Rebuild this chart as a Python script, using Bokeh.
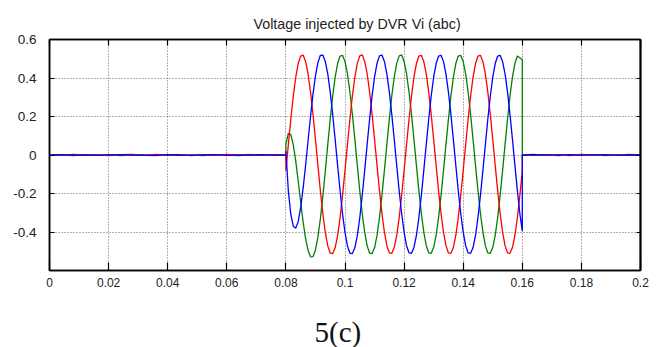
import numpy as np
from bokeh.plotting import figure
from bokeh.layouts import column
from bokeh.models import Range1d, FixedTicker, LinearAxis, CustomJSTickFormatter, Title
from bokeh.embed import file_html
from bokeh.resources import INLINE

# ---------------- data ----------------
TITLE = "Voltage injected by DVR Vi (abc)"
CAPTION = "5(c)"
x_ticks = [0, 0.02, 0.04, 0.06, 0.08, 0.1, 0.12, 0.14, 0.16, 0.18, 0.2]
y_ticks = [-0.4, -0.2, 0, 0.2, 0.4, 0.6]

# sampling grids (time, s)
pre_t = np.linspace(0.0, 0.08, 21)          # before the sag
fault_t = 0.08 + np.arange(97) * (0.02 / 24)  # 0.08 .. 0.16
post_t = np.linspace(0.16, 0.2, 11)         # after the sag

red_pre = [0.001, -0.002, 0.003, -0.001, 0.002, -0.003, 0.002, 0.003, -0.002, 0.003, -0.001,
           0.002, -0.003, 0.002, -0.002, 0.003, -0.001, 0.003, -0.002, 0.002, 0.000]
green_pre = [-0.002, 0.001, -0.003, 0.002, -0.001, 0.002, -0.003, 0.001, -0.002, -0.003, 0.002,
             -0.002, 0.001, -0.003, 0.002, -0.001, -0.003, 0.001, -0.002, 0.001, 0.000]
blue_pre = [0.000, 0.002, -0.001, 0.001, -0.002, 0.001, 0.002, -0.001, 0.001, -0.002, 0.002,
            0.000, -0.001, 0.001, 0.002, -0.002, 0.001, -0.001, 0.002, -0.001, 0.000]

red_fault = [
    -0.081, 0.054, 0.186, 0.306, 0.404, 0.475, 0.514, 0.519, 0.485, 0.421, 0.327, 0.211,
    0.081, -0.054, -0.186, -0.305, -0.402, -0.472, -0.510, -0.512, -0.482, -0.419, -0.326, -0.210,
    -0.080, 0.055, 0.187, 0.307, 0.405, 0.476, 0.515, 0.520, 0.486, 0.422, 0.327, 0.211,
    0.081, -0.054, -0.185, -0.304, -0.401, -0.471, -0.508, -0.511, -0.480, -0.418, -0.325, -0.210,
    -0.080, 0.055, 0.186, 0.306, 0.404, 0.475, 0.514, 0.518, 0.485, 0.421, 0.327, 0.211,
    0.081, -0.054, -0.185, -0.304, -0.401, -0.471, -0.509, -0.511, -0.481, -0.418, -0.325, -0.210,
    -0.080, 0.054, 0.186, 0.306, 0.404, 0.475, 0.514, 0.518, 0.485, 0.421, 0.327, 0.211,
    0.081, -0.054, -0.185, -0.304, -0.401, -0.471, -0.509, -0.511, -0.481, -0.418, -0.325, -0.210,
    -0.085]
green_fault = [
    0.055, 0.113, 0.106, 0.053, -0.032, -0.135, -0.244, -0.348, -0.434, -0.496, -0.529, -0.528,
    -0.493, -0.427, -0.331, -0.214, -0.083, 0.054, 0.186, 0.306, 0.404, 0.475, 0.514, 0.518,
    0.485, 0.421, 0.327, 0.211, 0.081, -0.054, -0.186, -0.305, -0.402, -0.472, -0.510, -0.512,
    -0.482, -0.419, -0.326, -0.210, -0.080, 0.055, 0.187, 0.307, 0.405, 0.476, 0.515, 0.520,
    0.486, 0.422, 0.327, 0.211, 0.081, -0.054, -0.185, -0.304, -0.401, -0.471, -0.508, -0.511,
    -0.480, -0.418, -0.325, -0.210, -0.080, 0.055, 0.186, 0.306, 0.404, 0.475, 0.514, 0.518,
    0.485, 0.421, 0.327, 0.211, 0.081, -0.054, -0.185, -0.304, -0.401, -0.471, -0.509, -0.511,
    -0.481, -0.418, -0.325, -0.210, -0.080, 0.054, 0.186, 0.306, 0.404, 0.475, 0.514, 0.505,
    0.495]
blue_fault = [
    0.020, -0.188, -0.309, -0.370, -0.380, -0.345, -0.273, -0.172, -0.053, 0.074, 0.200, 0.316,
    0.411, 0.480, 0.518, 0.519, 0.485, 0.421, 0.327, 0.211, 0.081, -0.054, -0.186, -0.305,
    -0.402, -0.472, -0.510, -0.512, -0.482, -0.419, -0.326, -0.210, -0.080, 0.055, 0.187, 0.307,
    0.405, 0.476, 0.515, 0.519, 0.486, 0.422, 0.327, 0.211, 0.081, -0.054, -0.185, -0.304,
    -0.401, -0.471, -0.508, -0.511, -0.480, -0.418, -0.325, -0.210, -0.080, 0.055, 0.186, 0.306,
    0.404, 0.475, 0.514, 0.518, 0.485, 0.421, 0.327, 0.211, 0.081, -0.054, -0.185, -0.304,
    -0.401, -0.471, -0.509, -0.511, -0.481, -0.418, -0.325, -0.210, -0.080, 0.054, 0.186, 0.306,
    0.404, 0.475, 0.514, 0.518, 0.485, 0.421, 0.327, 0.211, 0.081, -0.054, -0.185, -0.304,
    -0.395]

red_post = [0.000, 0.003, -0.002, 0.002, -0.003, 0.003, -0.001, 0.002, -0.002, 0.003, 0.001]
green_post = [0.000, -0.002, 0.002, -0.003, 0.001, -0.002, 0.002, -0.003, 0.001, -0.002, -0.001]
blue_post = [0.000, 0.002, 0.001, -0.001, 0.002, -0.001, 0.001, 0.002, -0.001, 0.001, 0.000]

t_all = np.concatenate([pre_t, fault_t, post_t])
series = [
    ("#008000", green_pre + green_fault + green_post),
    ("#ff0000", red_pre + red_fault + red_post),
    ("#0000ff", blue_pre + blue_fault + blue_post),
]

# ---------------- main figure ----------------
FONT = "Liberation Sans"
W = 660
H1 = 292           # chart part
H2 = 55            # caption strip
ML, MR, MT, MB = 49, 20, 39, 22

p = figure(width=W, height=H1, output_backend="svg", toolbar_location=None,
           x_range=Range1d(0, 0.2), y_range=Range1d(-0.6, 0.6),
           min_border_left=ML, min_border_right=MR, min_border_top=MT, min_border_bottom=MB)
p.background_fill_color = "white"
p.border_fill_color = "white"
p.outline_line_color = "black"
p.outline_line_width = 1.5

p.title = Title(text=TITLE, align="left", offset=204, text_font=FONT, text_font_size="14.3px",
                text_font_style="normal", text_color="#222222", standoff=15)

fmt = CustomJSTickFormatter(code="return (Math.round(tick*100)/100).toString();")
blank = CustomJSTickFormatter(code="return '';")

xa = p.xaxis[0]
xa.ticker = FixedTicker(ticks=x_ticks)
xa.formatter = fmt
xa.major_tick_in = 8
xa.major_tick_out = 0
xa.minor_tick_line_color = None
xa.axis_line_width = 1.5
xa.major_tick_line_width = 1.2
xa.major_label_standoff = 7
xa.major_label_text_font = FONT
xa.major_label_text_font_size = "12px"
xa.major_label_text_color = "#222222"

ya = p.yaxis[0]
ya.ticker = FixedTicker(ticks=y_ticks)
ya.formatter = fmt
ya.major_tick_in = 5
ya.major_tick_out = 0
ya.minor_tick_line_color = None
ya.axis_line_width = 1.5
ya.major_tick_line_width = 1.2
ya.major_label_standoff = 13
ya.major_label_text_font = FONT
ya.major_label_text_font_size = "13.5px"
ya.major_label_text_color = "#222222"

top = LinearAxis(ticker=FixedTicker(ticks=x_ticks), formatter=blank, major_tick_in=6, major_tick_out=0,
                 minor_tick_line_color=None, axis_line_width=1.5, major_tick_line_width=1.2,
                 major_label_standoff=0, major_label_text_font_size="0px")
p.add_layout(top, "above")
right = LinearAxis(ticker=FixedTicker(ticks=y_ticks), formatter=blank, major_tick_in=4, major_tick_out=0,
                   minor_tick_line_color=None, axis_line_width=2, major_tick_line_width=1.2,
                   major_label_standoff=0, major_label_text_font_size="0px")
p.add_layout(right, "right")

p.grid.grid_line_color = "#666666"
p.grid.grid_line_dash = "1 2"
p.grid.grid_line_width = 1

for color, ys in series:
    p.line(t_all, ys, line_color=color, line_width=1.3)

# ---------------- caption strip ----------------
c = figure(width=W, height=H2, output_backend="svg", toolbar_location=None,
           x_axis_type=None, y_axis_type=None, x_range=Range1d(0, 1), y_range=Range1d(0, 1),
           min_border_left=0, min_border_right=0, min_border_top=0, min_border_bottom=33,
           title_location="below")
c.outline_line_color = None
c.grid.visible = False
c.background_fill_color = "white"
c.border_fill_color = "white"
c.title = Title(text=CAPTION, align="left", offset=265, text_font="Liberation Serif",
                text_font_size="29px", text_font_style="normal", text_color="#111111", standoff=0)
c.title_location = "below"

layout = column(p, c, spacing=0)
open("out.html", "w").write(file_html(layout, INLINE))
